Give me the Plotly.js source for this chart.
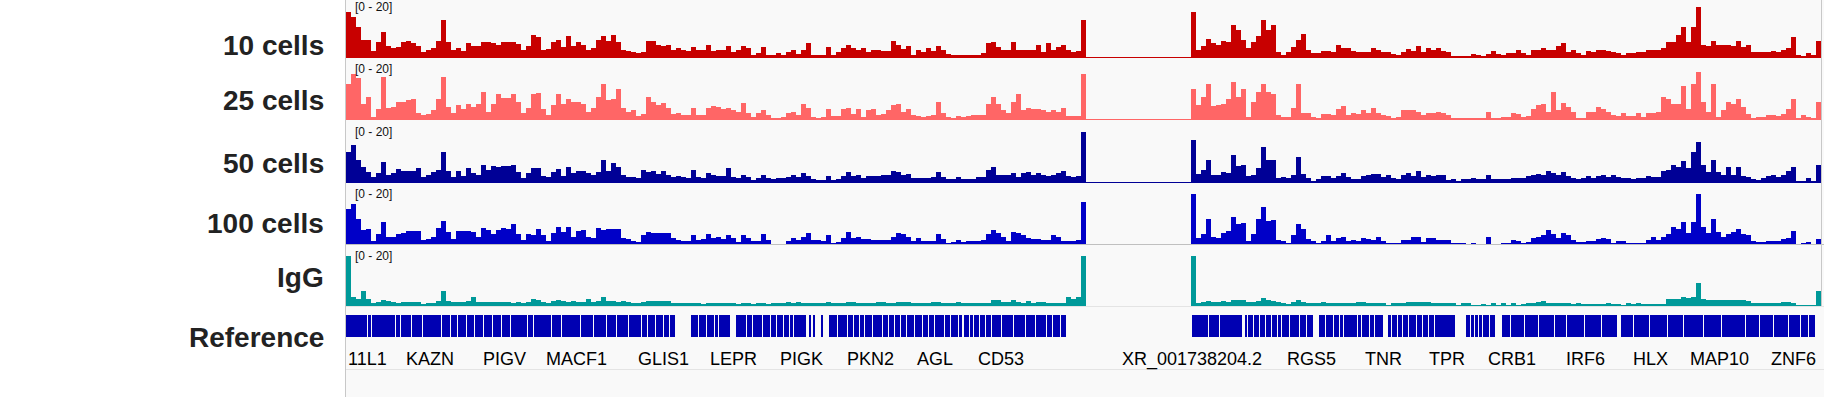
<!DOCTYPE html>
<html><head><meta charset="utf-8">
<script src="https://cdn.plot.ly/plotly-3.0.1.min.js"></script>
<style>html,body{margin:0;padding:0;background:#fff;} #chart{width:1824px;height:397px;}</style>
</head><body><div id="chart"></div>
<script>
// ---------------- DATA ----------------
const trackNames = ["10 cells", "25 cells", "50 cells", "100 cells", "IgG"];
const trackColors = ["#c80000", "#ff6666", "#000096", "#0000c8", "#009999"];
const dataRangeLabel = "[0 - 20]";
const dataMax = 20;
const seg1Start = 0;     // bin index of first bin in first segment
const seg2Start = 169;   // bin index of first bin in second segment
const totalBins = 295;

const cells10_seg1 = [18,16,12,7,6.7,2.5,6,10,4.5,3.5,4,6,6.5,5.8,4.5,2,2.8,3.5,6.4,15,6,3,3.7,2.5,5.8,4.5,4.5,6.1,6.1,5.8,4.9,6.1,6.1,6.1,5.3,3,4.3,
  9,8,2.8,3.2,6,6.7,4,8.3,4.5,6,5,3,3.5,6.7,8.5,6.5,9,6,3,2.3,2,1.7,2,6.3,6.3,5,4.5,5,2.7,3.7,2.7,2.5,4,2.7,3,5,2.5,2.9,2.7,4.3,2,3,4.3,3.5,0.8,1.5,4,0.7,
  0.7,1.5,1,2,2.7,1.2,3,5.6,0.7,0.7,0.8,4,1,2,3.5,5,3.5,3,3.5,2,2.7,2.7,2.5,2.5,6.5,5,3.3,4.3,1,2.7,2,3.5,2.5,4.3,2.7,1.2,0.7,0.7,0.7,0.7,0.7,0.7,1.6,5.5,6,4,3,3,6,
  3,2.9,2.9,2.9,5,2,5.6,2.7,4,5,2.7,2,2.5,15];
const cells10_seg2 = [18,3,4.5,7.3,5.5,5,6.3,6,13,11,7,3.5,6,8.5,15,11,13,2,1,2,4,7,9.3,
  2.7,1.5,1.6,2.5,2.5,2,5,3.5,3.7,2.5,2,2,2,3.7,2.7,2,2,1.2,0.8,2,3.2,2.5,4.5,2,3.5,2.7,3.5,2.5,2,0.4,0.3,0.3,0.3,1.4,0.7,0.5,1.2,2.5,1.3,0.7,1.6,1.6,2.9,
  1.5,1,2.7,2.8,3.7,3,3,4.3,5.6,2,2.7,1.8,1,2.5,2,2.9,2.9,2.5,2.2,1.8,1,1.6,1.8,2,2,2.9,2.9,2.9,3.7,6,6,9,12,6,12,20,5,4.5,6.5,5,5,
  5,4.5,6.5,4,5,2,2,2,2,2.5,2,2.8,3.5,8,1,0.5,1.6,1,6.4];

const cells25_seg1 = [14,18,16.4,6,9,1,4,16.8,4.5,4.8,6.8,6.8,7.5,8,2.4,1.5,2,3.5,8,16.8,5,2.5,5.5,4,6,5,6,11,3,6,10,8.5,8.5,10,6.7,2.4,4.5,
  10,10.5,4,1.5,5.5,10,6,8,6.7,7,6,3,4.4,9,14,7.5,8,12,4.5,3,3.5,1.2,2,9,7,5.5,6.5,4.4,2,2.5,1.5,1.7,4.5,1.5,1.5,4.5,5.3,5,4,4.5,3.5,3,6.5,2.5,1,2.5,3.5,1.5,
  0.6,0.5,0.8,2.5,3,1.7,6,4.5,0.7,0.4,1,4,1.3,1.3,4,4.5,2,4,1,3.5,4,1.7,2,3.5,5.5,6,3,4,1.5,1.2,0.8,1.3,1.5,6.9,2.5,0.8,0.5,1.2,0.8,1.2,1.5,1.5,1.7,6,9,6,3.5,2.5,7,
  10,3.5,4.5,4,4,3.5,3,3.5,3,4.5,1.3,1.3,1.3,18];
const cells25_seg2 = [12,5.7,9,14,5.3,5.8,6,8,15,9,12,1,7,11,14,11,10,1.5,0.8,0.8,4.5,14,2.4,
  2.4,1,0.5,2,2,1.5,4,5.3,1.5,2.5,2,3.5,2.5,4.5,2.5,1.5,1.3,0.5,1,3.5,3.5,3.5,3,1.5,2.5,2.5,3,2.5,1.5,0.3,0.3,0.3,0.5,0.3,0.3,0.3,2.7,0.5,0.5,0.8,0.8,2.5,2,
  0.8,1.2,4,5.5,6,3,11,3.5,6.5,5,3,0.5,0.5,3,3,5,4,3,1.5,1.3,2.5,1.2,1.2,2.5,1,2.5,2.3,3,8.8,8,6,6,13.3,4,14,19,7,3,14,1,3.5,
  7,6,8,5,2,0.5,0.8,1,1.6,1.5,1.2,2,4,8,0.5,1.5,1,0.4,6.7];

const cells50_seg1 = [12,15,9,6,4,2,3.5,8,3,3.5,5.3,4.3,4.3,4.5,5.5,2,3,4,5,12,4.5,2,4.3,2.5,5.5,3.5,3,7,5,6.5,6,6.5,6.5,7,4,1.5,3.7,
  5.8,5.5,2.5,2,4,5.3,2.5,6,3.5,4.5,4.3,3.5,3,4,9,4.5,7.5,6,3,2.2,2,1.6,5,4,4.5,3.3,4.5,2.8,2.2,2.5,2,1.8,5,2,1.5,3.5,3,2.3,2.5,5.5,2,1.8,3,2.2,1,1.8,2.8,1.5,
  1.3,1.5,1.7,2,3,2,3.5,2.5,1.3,1,1,2.5,1,1.3,2.5,4,2.5,3,1.5,2.5,2.5,2.5,2.7,2.7,4.5,4,3,3.3,1.5,1.5,1.6,1.7,2,4,2,1.3,1.3,2,1.3,1.3,1.3,2,2,4.7,6,3,3,3,3.7,
  2,3.5,4,3,3.5,3,2.5,3,3.5,4.5,2.5,2,2.3,20];
const cells50_seg2 = [17,3.1,5,9,3,3,4,3.5,11,6.5,7,2.5,3,5.5,14,9,9,1.5,2,1.5,3,10,3.3,
  1.5,0.5,1.3,2.5,2.5,1.5,2.5,3.5,2,1.3,1.3,2.5,3,3.3,3.3,2,2.7,1.5,1.3,2.7,3.5,2.5,4.3,2,3,2.5,3,3,1,1.3,0.6,1.3,1.3,1.5,1.3,1.3,2.7,1.3,1.3,1.3,1.3,1.6,1.6,
  1.6,2.5,3,3.2,2.8,4.5,3.5,3,4,2.5,1.6,1.2,1.5,2.5,1.8,2.5,2.8,2.2,2.7,2,1.6,1.8,1.3,1.6,1.6,2.5,2.2,2.2,4.3,5,7,6,8.5,5.5,12,16,7,4,9,4,3,
  6,3,6,2.5,2,1.3,0.7,1.5,2.5,2.7,2.2,3,4.3,6,0.6,0.4,1.7,0.5,7];

const cells100_seg1 = [14,16,10,5.5,6,1.2,4,8.8,3,3,4.1,4.5,5.2,5.2,5.2,1.5,2,3,6.4,9.2,5,2,5.2,5.2,5.2,5,3,6.5,5.5,4,5.5,6.4,6,8,4,1.5,4,
  3.5,6,3.5,1.2,4.5,7,5,7,3,5.2,5.5,3,2.5,6.5,5.5,6.1,6,6,2.5,2,1.2,1,3.5,5,4.4,4.4,4.4,4.4,2.5,1.5,1.3,1.2,3.5,1.5,2,3.9,2.5,2.8,2.2,3.5,2.5,1,3.5,2.5,1.2,1.2,4,1.5,
  0.2,0.2,0.2,1.2,2.4,1.5,3,4.4,1.5,1.5,1.2,3.5,0.5,1,2.5,5,2.5,2.8,2,2.2,1.5,1.5,1.5,1.8,2.8,4.4,4.2,3,1.2,2.4,1.2,1.2,1.2,3.9,2,0.5,1,1.5,0.8,1.2,1.2,1.3,1.5,4,5.5,4.4,2.7,1.2,5,
  4.3,3.5,2.5,2,2,1.5,1.5,3.7,3,1.3,1.3,1.3,1.5,17];
const cells100_seg2 = [19.9,2.5,4,9.9,3,2.5,4.5,5.2,11,8,8.5,1.2,4,9.9,15,9.2,9.5,1.5,1.2,0.5,3.5,8,6,
  2,1.2,0.5,1.3,3.5,1.2,2.5,2.8,1.3,1.5,1.2,2.3,2,1.5,2.8,1.2,0.4,0.4,0.6,1.5,1.5,2.8,2.8,1,2.5,2.5,1.7,1.7,1.5,0.5,0.4,0.4,0.2,0.4,0.2,0.2,2.8,0.2,0.2,0.4,0.4,1.7,1.4,
  0.5,1,2.5,2.8,3.5,5.5,4,2.5,4.4,3.8,1.5,1,0.8,1.2,1.2,2.2,2.5,2,0.5,1.2,1.2,0.4,0.4,0.4,0.4,1.5,2.8,1.5,3,4.1,7,6,8.8,4.5,9,19.9,6.8,4.5,9.9,5,2.7,
  4,5,6,4,3.5,1.2,1,1,1.2,1.3,1.3,2,2.4,5.3,0.1,0.6,0.8,0.1,2];

const igg_seg1 = [20,3.5,3,6,3,1.2,1.5,2.5,2,1.5,1.3,1.6,1.8,1.5,1.6,1,1.2,1.4,2,6,2,1.6,1.8,1.5,2,3.5,1.8,1.6,1.5,1.6,1.5,1.6,1.5,1.4,1.5,1.3,1.5,
  3,2.5,1.5,1.3,2,2.5,2,1.8,2,1.8,1.8,3,1.6,2,3.5,2,2.2,1.6,2,1.5,1.2,1.2,1.5,2,2.2,2.2,2.2,2.2,1.2,1.2,1.2,1.2,1.2,1.2,1,1.2,1.2,1.2,1.2,1.2,1.2,1,1.2,1.2,1,1.2,1.2,1,
  1.2,1.2,1.2,1.6,1.2,1.6,1.2,1.2,1.2,1.2,1.2,1.6,1.2,1.2,1.2,1.6,1.6,1.2,1.2,1.2,1.2,1.6,1.6,1.2,1.2,1.6,1.6,1.6,1.2,1.2,1.2,1.2,1.6,1.6,1.2,1.2,1.2,1.6,1.2,1.2,1.2,1.2,1.2,1.2,2.3,2.5,1.5,1.5,2.5,
  1.5,1.2,2.2,1.2,1.5,1.6,1.2,1.2,1.2,1.2,3.5,3,3.5,20];
const igg_seg2 = [20,1.2,1.6,2,1.6,1.6,2,1.6,2.3,2.3,2.5,1.6,1.8,2.2,3.2,2.5,2.2,1.6,1.2,0.8,1.6,2.3,1.6,
  1.4,1.2,1.2,1.6,1.2,1.2,1.2,1.2,1.2,1.2,1.5,1.6,1.2,1.2,1.2,1.2,0.5,1.2,1.2,1.2,1.6,1.6,1.5,1.6,1.6,1.2,1.2,1.2,1.2,1.2,0.3,1.2,1.2,0.3,0.3,1,0.3,1.2,0.3,1.2,0.3,1.2,0.5,
  1,1.2,1.2,1.6,2,1.3,1.3,1.3,1.3,1.3,1,1.3,0.9,0.9,0.9,0.9,0.9,1.2,0.9,0.8,0.5,1.2,0.8,1.2,0.7,0.9,0.9,0.9,1,2.7,2.7,3,3.5,3.2,3.5,9.2,3,2.5,2.5,2.5,2.5,
  2.5,2.5,2.3,2.3,2,1.3,1.3,1.3,1.3,1.3,1.3,1.5,1.6,1.2,0.3,0.3,0.3,0.3,6];

// reference gene track: covered spans and gaps between exon blocks (bin units)
const geneSpans = [[-0.5, 143.5], [168.7, 293.3]];
const geneGaps = [[3.74,3.94],[4.54,4.74],[9.28,9.48],[10.2,10.4],[12.4,12.6],[14.6,14.8],[18.54,18.74],[20.36,20.56],[21.78,21.98],[23.52,23.72],
  [25.1,25.3],[26.84,27.04],[28.66,28.86],[30.48,30.68],[32.2,32.4],[35.78,35.98],[36.96,37.16],[40.52,40.72],[42.5,42.7],[46.3,46.5],
  [48.8,49.0],[51.4,51.6],[53.4,53.6],[55.8,56.0],[58.5,58.7],[59.68,59.88],[61.2,61.4],[62.8,63.0],[64.0,64.2],[65.3,68.5],
  [69.96,70.16],[71.4,71.6],[73.12,73.32],[73.92,74.12],[76.38,77.58],[79.4,79.6],[80.6,80.8],[82.6,82.8],[84.2,84.4],[85.4,85.6],
  [86.8,87.0],[88.0,88.2],[88.94,89.14],[91.4,92.0],[92.4,92.8],[93.2,94.5],[94.9,96.1],[97.6,97.8],[99.6,99.8],[100.8,101.0],
  [102.0,102.2],[103.0,103.2],[104.74,104.94],[106.72,106.92],[107.9,108.1],[109.1,109.3],[110.2,110.4],[111.4,111.6],[113.0,113.2],[114.6,114.8],
  [115.8,116.0],[117.0,117.2],[119.0,119.2],[120.2,120.4],[121.8,122.0],[122.62,123.02],[124.0,124.2],[124.9,125.1],[126.1,126.3],[127.28,127.48],
  [128.4,128.6],[130.4,130.6],[132.8,133.0],[135.2,135.4],[137.2,137.4],[139.52,139.72],[140.7,140.9],[142.2,142.4],
  [171.8,172.0],[174.18,174.38],[178.66,179.22],[179.76,179.96],[180.94,181.14],[182.14,182.34],[183.34,183.54],[184.52,184.72],[185.72,185.92],[186.52,186.72],
  [188.1,188.3],[190.1,190.3],[191.52,191.72],[192.98,194.18],[195.26,195.46],[196.86,197.06],[198.06,198.26],[198.86,199.06],[201.64,201.84],[202.44,202.64],
  [204.02,204.22],[205.06,205.26],[206.9,207.86],[208.4,208.6],[209.6,209.8],[210.78,210.98],[211.98,212.18],[213.58,213.78],[214.76,214.96],[215.96,216.16],
  [217.16,217.36],[221.24,223.46],[224.32,224.52],[225.12,225.32],[225.92,226.12],[226.7,226.9],[228.14,228.34],[229.2,230.78],[232.28,232.48],[235.06,235.26],
  [237.84,238.04],[241.04,241.24],[243.42,243.62],[247.0,247.2],[250.58,250.78],[253.7,254.5],[256.94,257.14],[260.14,260.34],[263.72,263.92],[266.9,267.1],
  [270.88,271.08],[274.46,274.66],[279.24,279.44],[282.02,282.22],[284.8,285.0],[287.98,288.18],[290.38,290.58],[291.96,292.16]];
const geneColor = "#0000b2";

const geneNames = ["11L1","KAZN","PIGV","MACF1","GLIS1","LEPR","PIGK","PKN2","AGL","CD53","XR_001738204.2","RGS5","TNR","TPR","CRB1","IRF6","HLX","MAP10","ZNF6"];
const geneLabelPos = [-0.5,16.3,31.1,45.5,62.9,76.9,90.5,104.3,117.3,130.5,168.6,192.5,206.9,219.7,232.7,247.3,260.3,274.1,284.1];

// ---------------- LAYOUT CONSTANTS ----------------
const W = 1824, H = 397;
const panelLeft = 346, panelRight = 1821;
const baselines = [57, 119, 182, 244, 306];   // px from top
const trackPx = 50;                            // px for [0 - 20]
const labelCenters = [45, 100, 163, 223, 277];
const geneTop = 315, geneBottom = 337, geneLabelY = 359;

const seg1 = [cells10_seg1, cells25_seg1, cells50_seg1, cells100_seg1, igg_seg1];
const seg2 = [cells10_seg2, cells25_seg2, cells50_seg2, cells100_seg2, igg_seg2];

function idx(start, n){ const a=[]; for(let i=0;i<n;i++) a.push(start+i); return a; }
const px2py = py => 1 - py / H;

const traces = [];
const layout = {
  width: W, height: H, margin: {l:0, r:0, t:0, b:0},
  paper_bgcolor: "#ffffff", plot_bgcolor: "rgba(0,0,0,0)",
  showlegend: false, bargap: 0, barmode: "overlay",
  xaxis: {domain: [panelLeft / W, panelRight / W], range: [-0.5, totalBins - 0.5], visible: false, fixedrange: true},
  shapes: [], annotations: []
};

// panel background
layout.shapes.push({type:"rect", xref:"paper", yref:"paper", x0: panelLeft / W, x1: 1, y0: 0, y1: 1,
  fillcolor:"#f9f9f9", line:{width:0}, layer:"below"});

for (let k = 0; k < 5; k++) {
  const ya = k === 0 ? "y" : "y" + (k + 1);
  const yname = k === 0 ? "yaxis" : "yaxis" + (k + 1);
  const b = baselines[k];
  layout[yname] = {
    domain: [px2py(b), px2py(b - trackPx)], range: [0, dataMax], fixedrange: true,
    showgrid: false, showticklabels: false, ticks: "", showline: false,
    zeroline: k < 3, zerolinecolor: trackColors[k], zerolinewidth: 1
  };
  const xs = idx(seg1Start, seg1[k].length).concat(idx(seg2Start, seg2[k].length));
  const ys = seg1[k].concat(seg2[k]);
  traces.push({type:"bar", x: xs, y: ys, width: 1, xaxis:"x", yaxis: ya,
    marker:{color: trackColors[k], line:{width:0}}, hoverinfo:"skip"});
  // track name
  layout.annotations.push({xref:"paper", yref:"paper", x: 326 / W, y: px2py(labelCenters[k]),
    xanchor:"right", yanchor:"middle", showarrow:false, text: trackNames[k],
    font:{family:"Liberation Sans, Arial, sans-serif", size:28, weight:"bold", color:"#222222"}});
  // data range
  layout.annotations.push({xref:"paper", yref:"paper", x: 353 / W, y: px2py(b - trackPx),
    xanchor:"left", yanchor:"middle", showarrow:false, text: dataRangeLabel,
    font:{family:"Liberation Sans, Arial, sans-serif", size:12, color:"#111111"}});
}

// separators
layout.shapes.push({type:"line", xref:"paper", yref:"paper", x0: panelLeft / W, x1: 1, y0: px2py(244.5), y1: px2py(244.5), line:{color:"#c0c0c0", width:1}});
layout.shapes.push({type:"line", xref:"paper", yref:"paper", x0: panelLeft / W, x1: 1, y0: px2py(306.5), y1: px2py(306.5), line:{color:"#e4e4e4", width:1}});
layout.shapes.push({type:"line", xref:"paper", yref:"paper", x0: panelLeft / W, x1: 1, y0: px2py(369.5), y1: px2py(369.5), line:{color:"#e4e4e4", width:1}});
layout.shapes.push({type:"line", xref:"paper", yref:"paper", x0: 345.5 / W, x1: 345.5 / W, y0: 0, y1: 1, line:{color:"#c8c8c8", width:1}});
layout.shapes.push({type:"line", xref:"paper", yref:"paper", x0: 1821.5 / W, x1: 1821.5 / W, y0: px2py(306), y1: 1, line:{color:"#c8c8c8", width:1}});

// gene track: blocks = spans minus gaps
const gx = [], gw = [];
geneSpans.forEach(([s, e]) => {
  let cur = s;
  geneGaps.filter(g => g[0] >= s && g[1] <= e).sort((a,b)=>a[0]-b[0]).forEach(g => {
    if (g[0] > cur) { gx.push((cur + g[0]) / 2); gw.push(g[0] - cur); }
    cur = g[1];
  });
  if (e > cur) { gx.push((cur + e) / 2); gw.push(e - cur); }
});
layout.yaxis6 = {domain:[px2py(geneBottom), px2py(geneTop)], range:[0,1], visible:false, fixedrange:true};
traces.push({type:"bar", x: gx, y: gx.map(() => 1), width: gw, xaxis:"x", yaxis:"y6",
  marker:{color: geneColor, line:{width:0}}, hoverinfo:"skip"});

layout.annotations.push({xref:"paper", yref:"paper", x: 326 / W, y: px2py(337),
  xanchor:"right", yanchor:"middle", showarrow:false, text:"Reference",
  font:{family:"Liberation Sans, Arial, sans-serif", size:28, weight:"bold", color:"#222222"}});

geneNames.forEach((n, i) => {
  const edge = (i === 0 || i === geneNames.length - 1);
  layout.annotations.push({xref:"x", yref:"paper", x: geneLabelPos[i], y: px2py(geneLabelY),
    xanchor: edge ? "left" : "center", yanchor:"middle", showarrow:false, text:n,
    font:{family:"Liberation Sans, Arial, sans-serif", size:18, color:"#000000"}});
});

Plotly.newPlot("chart", traces, layout, {staticPlot:true, displayModeBar:false});
</script>
</body></html>
